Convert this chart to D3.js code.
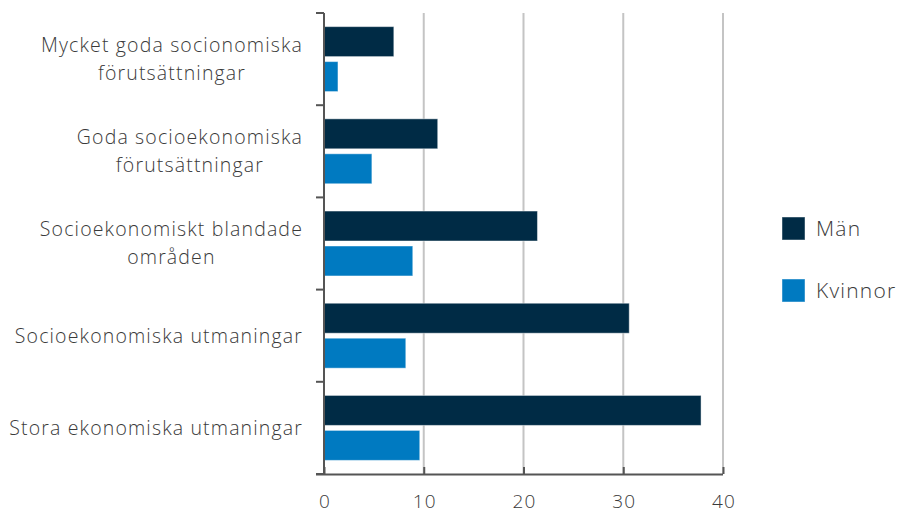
<!DOCTYPE html>
<html><head><meta charset="utf-8">
<script src="https://cdn.jsdelivr.net/npm/d3@7"></script>
<style>body{margin:0;background:#fff;} text{font-family:"Open Sans",sans-serif;fill:#3a3a3a;font-weight:300;}</style>
</head><body><svg id="c" width="898" height="514"></svg>
<script>
const categories = [
  ["Mycket goda socionomiska", "förutsättningar"],
  ["Goda socioekonomiska", "förutsättningar"],
  ["Socioekonomiskt blandade", "områden"],
  ["Socioekonomiska utmaningar"],
  ["Stora ekonomiska utmaningar"]
];
const series = ["Män", "Kvinnor"];
const man = [7.0, 11.4, 21.4, 30.6, 37.8];
const kvinnor = [1.4, 4.8, 8.9, 8.2, 9.6];
const xTicks = [0, 10, 20, 30, 40];
const colors = ["#002b45", "#007ac1"];

(function () {
const svg = d3.select("#c");
const mLeft = 324, mRight = 723, mTop = 13, mBottom = 474;
const x = d3.scaleLinear().domain([0, 40]).range([mLeft, mRight]);
const y = d3.scaleBand().domain(d3.range(categories.length)).range([mTop, mBottom]);
const yi = d3.scaleBand().domain(series).range([0, y.bandwidth()]).paddingInner(0.143).paddingOuter(0.39);
const vals = [man, kvinnor];

svg.append("g").selectAll("line").data(xTicks.filter(d => d > 0)).join("line")
  .attr("x1", d => x(d)).attr("x2", d => x(d)).attr("y1", mTop).attr("y2", mBottom)
  .attr("stroke", "#c4c4c4").attr("stroke-width", 2);

series.forEach((s, si) => {
  svg.append("g").selectAll("rect").data(vals[si]).join("rect")
    .attr("x", x(0)).attr("y", (d, i) => y(i) + yi(s))
    .attr("width", d => x(d) - x(0)).attr("height", yi.bandwidth())
    .attr("fill", colors[si]).attr("stroke", "#fff").attr("stroke-opacity", 0.45).attr("stroke-width", 1);
});

const xa = svg.append("g").attr("transform", `translate(0,${mBottom})`)
  .call(d3.axisBottom(x).tickValues(xTicks).tickSize(-7).tickSizeOuter(0).tickPadding(21));
xa.select(".domain").attr("stroke", "#555").attr("stroke-width", 2).attr("d", `M${mLeft-8},0.5H${mRight}`);
xa.selectAll(".tick line").attr("stroke", "#555").attr("stroke-width", 2);
xa.selectAll(".tick text").attr("font-size", 19).attr("letter-spacing", 1.2).attr("fill", "#3a3a3a")
  .attr("font-family", "Open Sans").attr("font-weight", 300).attr("dy", "0.71em").attr("dx", 0.6);

const ticksY = d3.range(categories.length + 1).map(i => mTop + i * y.step());
svg.append("line").attr("x1", mLeft).attr("x2", mLeft).attr("y1", mTop).attr("y2", mBottom).attr("stroke", "#555").attr("stroke-width", 2);
svg.append("g").selectAll("line").data(ticksY).join("line")
  .attr("x1", mLeft - 8).attr("x2", mLeft).attr("y1", d => d).attr("y2", d => d)
  .attr("stroke", "#555").attr("stroke-width", 2);

const labelRight = 303, fs = 19.5, lh = 28;
categories.forEach((lines, i) => {
  const cy = y(i) + y.bandwidth() / 2;
  const t = svg.append("text").attr("font-size", fs).attr("letter-spacing", 1.15).attr("text-anchor", "middle");
  lines.forEach((l, j) => {
    t.append("tspan").attr("x", 0).attr("y", cy + (j - (lines.length - 1) / 2) * lh).attr("dy", "0.35em").text(l);
  });
  const w = d3.max(t.selectAll("tspan").nodes(), n => n.getComputedTextLength());
  t.selectAll("tspan").attr("x", labelRight - w / 2);
});

series.forEach((s, i) => {
  const yy = 217 + i * 62;
  svg.append("rect").attr("x", 782).attr("y", yy).attr("width", 23).attr("height", 23).attr("fill", colors[i])
    .attr("stroke", "#fff").attr("stroke-opacity", 0.45);
  svg.append("text").attr("x", 816).attr("y", yy + 11.5).attr("dy", "0.35em").attr("font-size", 21)
    .attr("letter-spacing", 1.2).text(s);
});
})();
</script></body></html>
